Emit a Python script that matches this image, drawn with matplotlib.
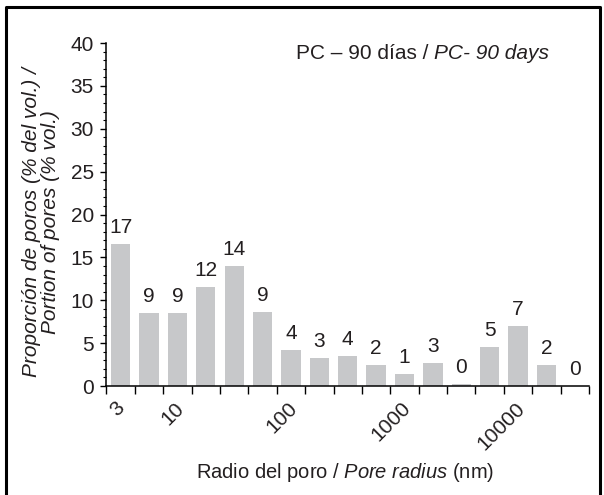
import numpy as np
import matplotlib
matplotlib.use("Agg")
import matplotlib.pyplot as plt
from matplotlib.lines import Line2D
from matplotlib.transforms import ScaledTranslation

plt.rcParams["font.family"] = ["Liberation Sans", "DejaVu Sans"]
plt.rcParams["mathtext.fontset"] = "custom"
plt.rcParams["mathtext.rm"] = "Liberation Sans"
plt.rcParams["mathtext.it"] = "Liberation Sans:italic"

# pore volume share (%) per radius class, 4 classes per decade starting at 3 nm
proportion = [16.6, 8.55, 8.55, 11.55, 13.95, 8.6, 4.2, 3.3, 3.55,
              2.45, 1.4, 2.7, 0.2, 4.55, 7.0, 2.45, 0.0]
r_start = 3
per_decade = 4
radius_ticks = [3, 10, 100, 1000, 10000]
radius_ticklabels = ["3", "10", "100", "1000", "10000"]

ink = "#231f20"
bar_grey = "#c7c8ca"
fs = 15

n = len(proportion)
k = np.arange(n + 1)
edges = r_start * 10 ** (k / per_decade)
left = r_start * 10 ** ((k[:-1] + 0.16) / per_decade)
right = r_start * 10 ** ((k[:-1] + 0.84) / per_decade)
centers = np.sqrt(left * right)

fig = plt.figure(figsize=(6.04, 4.95), dpi=100)
ax = fig.add_axes([0.1763, 0.2202, 0.7989, 0.6929])

ax.bar(left, proportion, width=right - left, align="edge", color=bar_grey, linewidth=0)
for c, v in zip(centers, proportion):
    ax.annotate(f"{v:.0f}", xy=(c, v), xytext=(0, 5), textcoords="offset points",
                ha="center", va="bottom", fontsize=fs, color=ink)

ax.set_xscale("log")
ax.set_xlim(edges[0], edges[-1])
ax.set_ylim(0, 40)

# class boundaries as unlabelled ticks, decade labels as tickless minor ticks
ax.xaxis.remove_overlapping_locs = False
ax.set_xticks(edges)
ax.set_xticklabels([""] * len(edges))
ax.set_xticks(radius_ticks, minor=True)
ax.set_xticklabels(radius_ticklabels, minor=True)
ax.tick_params(axis="x", which="major", direction="out", length=6, width=1, color="black")
ax.tick_params(axis="x", which="minor", length=0, pad=9, labelsize=fs, labelcolor=ink)
for lab in ax.xaxis.get_minorticklabels():
    lab.set_rotation(45)
    lab.set_ha("right")
    lab.set_va("top")
    lab.set_rotation_mode("anchor")
    lab.set_transform(lab.get_transform() + ScaledTranslation(6 / 72, 0, fig.dpi_scale_trans))

ax.set_yticks(np.arange(0, 41, 5))
ax.set_yticks(np.arange(0, 41, 1), minor=True)
ax.tick_params(axis="y", which="major", direction="out", length=4, width=1,
               labelsize=fs, labelcolor=ink, pad=5)
ax.tick_params(axis="y", which="minor", direction="out", length=2.5, width=0.8)

for side in ["top", "right"]:
    ax.spines[side].set_visible(False)
for side in ["left", "bottom"]:
    ax.spines[side].set_linewidth(1.1)
    ax.spines[side].set_color("black")

fig.text(41 / 604, 1 - 222 / 495,
         "Proporción de poros (% del vol.) /\nPortion of pores (% vol.)",
         rotation=90, ha="center", va="center", multialignment="center",
         style="italic", fontsize=fs, color=ink, linespacing=0.95)

fig.text(345.5 / 604, 1 - 472 / 495,
         r"Radio del poro / $\mathit{Pore\ radius}$ (nm)",
         ha="center", va="center", fontsize=14.5, color=ink)

# heading: upright Spanish part followed by italic English part
head_es = fig.text(296 / 604, 1 - 59 / 495, "PC – 90 días / ",
                   ha="left", va="baseline", fontsize=fs, color=ink)
ax.annotate("PC- 90 days", xy=(1, 0), xycoords=head_es, ha="left", va="bottom",
            fontsize=fs, color=ink, style="italic", annotation_clip=False)

# outer frame
fx = [6 / 604, 6 / 604, 599.5 / 604, 599.5 / 604]
fy = [0, 1 - 7 / 495, 1 - 7 / 495, 0]
fig.add_artist(Line2D(fx, fy, transform=fig.transFigure, color="black", linewidth=2.2))

fig.savefig("out.png", dpi=100)
